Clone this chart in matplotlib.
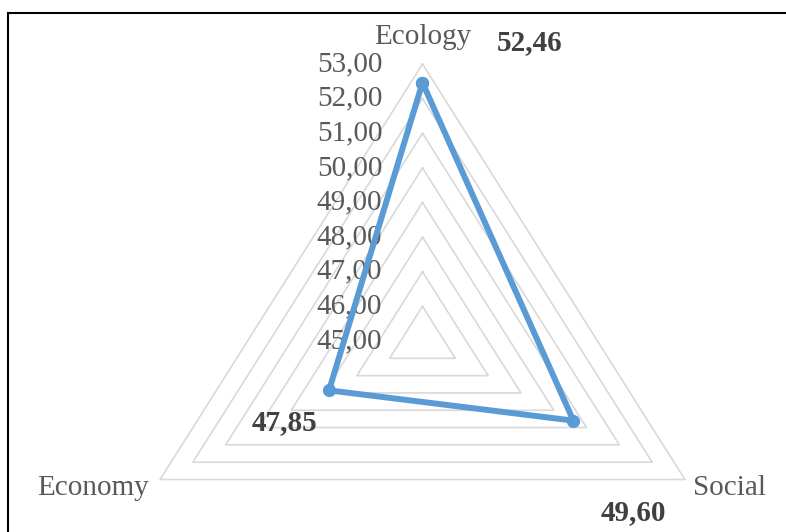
import numpy as np
import matplotlib
matplotlib.use("Agg")
import matplotlib.pyplot as plt
from matplotlib.lines import Line2D

categories = ["Ecology", "Social", "Economy"]
values = [52.46, 49.60, 47.85]
value_labels = ["52,46", "49,60", "47,85"]
tick_values = [45, 46, 47, 48, 49, 50, 51, 52, 53]
tick_labels = ["45,00", "46,00", "47,00", "48,00", "49,00", "50,00", "51,00", "52,00", "53,00"]
r_min, r_max = 45, 53

plt.rcParams["font.family"] = ["Liberation Serif", "DejaVu Serif"]

W, H = 786, 532
fig = plt.figure(figsize=(W / 100, H / 100), dpi=100)
ax = fig.add_axes([0, 0, 1, 1])
ax.set_axis_off()

# pixel geometry of the radar
cx, cy = 422.5, 341.0
ux, uy = 303.0, 277.0
ax.set_xlim(-cx / ux, (W - cx) / ux)
ax.set_ylim((cy - H) / uy, cy / uy)

angles = np.deg2rad([90, -30, 210])

def xy(val, ang):
    r = (val - r_min) / (r_max - r_min)
    return r * np.cos(ang), r * np.sin(ang)

# grid triangles
for tv in tick_values[1:]:
    xs, ys = xy(np.array([tv] * 4), np.append(angles, angles[0]))
    ax.plot(xs, ys, color="#D9D9D9", lw=1.2, zorder=1)

# data polygon
px, py = xy(np.array(values + values[:1]), np.append(angles, angles[0]))
ax.plot(px, py, color="#5B9BD5", lw=4.3, marker="o", markersize=8.5,
        solid_joinstyle="round", zorder=3)

FS = 21

# tick labels along the vertical axis
for tv, tl in zip(tick_values, tick_labels):
    x0, y0 = xy(tv, np.pi / 2)
    ax.annotate(tl, xy=(x0, y0), xytext=(-29, 0), textcoords="offset points",
                ha="right", va="center", fontsize=FS, color="#595959", zorder=2)

# category labels
cat_offsets = [(0, 10, "center", "bottom"), (6, -6, "left", "center"), (-8, -6, "right", "center")]
for cat, ang, (dx, dy, ha, va) in zip(categories, angles, cat_offsets):
    x0, y0 = xy(r_max, ang)
    ax.annotate(cat, xy=(x0, y0), xytext=(dx, dy), textcoords="offset points",
                ha=ha, va=va, fontsize=FS, color="#595959")

# value labels
val_offsets = [(77, 29), (43, -66), (-32, -23)]
for v, lab, ang, (dx, dy) in zip(values, value_labels, angles, val_offsets):
    x0, y0 = xy(v, ang)
    ax.annotate(lab, xy=(x0, y0), xytext=(dx, dy), textcoords="offset points",
                ha="center", va="center", fontsize=FS, fontweight="bold", color="#404040")

# image frame (left and top border)
fig.add_artist(Line2D([8.3 / W, 8.3 / W], [0, 1 - 13.3 / H], transform=fig.transFigure,
                      color="black", lw=1.5))
fig.add_artist(Line2D([8.3 / W, 1], [1 - 13.3 / H, 1 - 13.3 / H], transform=fig.transFigure,
                      color="black", lw=1.5))

fig.savefig("out.png", dpi=100)
